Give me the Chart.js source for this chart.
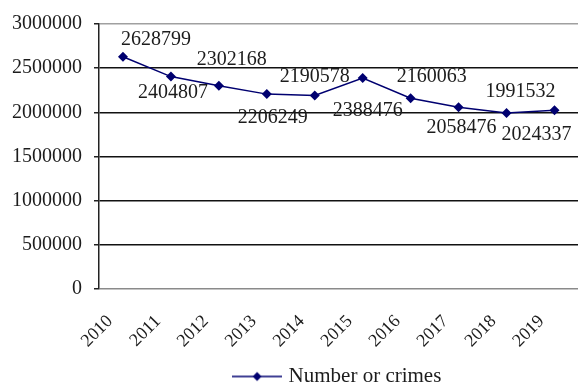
<!DOCTYPE html>
<html lang="en">
<head>
    <meta charset="UTF-8">
    <title>Number or crimes</title>
    <script src="https://cdn.jsdelivr.net/npm/chart.js"></script>
    <style>
        body {
            margin: 0;
            background: #fff;
        }
        .wrap {
            width: 578px;
            height: 387px;
            overflow: hidden;
        }
        canvas {
            display: block;
        }
    </style>
</head>
<body>
    <div class="wrap"><canvas id="crimeChart" width="584" height="397"></canvas></div>
    <script>
        const years = ['2010', '2011', '2012', '2013', '2014', '2015', '2016', '2017', '2018', '2019'];
        const crimes = [2628799, 2404807, 2302168, 2206249, 2190578, 2388476, 2160063, 2058476, 1991532, 2024337];
        const yMin = 0;
        const yMax = 3000000;
        const yStep = 500000;

        // value labels are nudged by hand around each point (dx, dy in px)
        const labelNudge = [[33, -17], [2, 16], [13, -26], [6, 24], [0, -19], [5, 33], [21, -21], [3, 21], [14, -21], [-18, 25]];

        const navy = '#000070';
        const serif = '"Liberation Serif", "Times New Roman", serif';

        // little line + diamond used as the legend key
        function legendMarker() {
            const c = document.createElement('canvas');
            c.width = 50;
            c.height = 12;
            const g = c.getContext('2d');
            g.strokeStyle = navy;
            g.lineWidth = 1.5;
            g.beginPath();
            g.moveTo(0, 6);
            g.lineTo(50, 6);
            g.stroke();
            g.fillStyle = navy;
            g.beginPath();
            g.moveTo(25, 1.5);
            g.lineTo(29.5, 6);
            g.lineTo(25, 10.5);
            g.lineTo(20.5, 6);
            g.closePath();
            g.fill();
            return c;
        }

        const pointLabels = {
            id: 'pointLabels',
            afterDatasetsDraw(chart) {
                const ctx = chart.ctx;
                const meta = chart.getDatasetMeta(0);
                ctx.save();
                ctx.font = '20px ' + serif;
                ctx.fillStyle = '#1c1c1c';
                ctx.textAlign = 'center';
                ctx.textBaseline = 'middle';
                meta.data.forEach((pt, i) => {
                    const [dx, dy] = labelNudge[i];
                    ctx.fillText(String(crimes[i]), pt.x + dx, pt.y + dy);
                });
                ctx.restore();
            }
        };

        new Chart(document.getElementById('crimeChart').getContext('2d'), {
            type: 'line',
            data: {
                labels: years,
                datasets: [{
                    label: 'Number or crimes',
                    data: crimes,
                    borderColor: navy,
                    backgroundColor: navy,
                    borderWidth: 1.5,
                    tension: 0,
                    pointStyle: 'rectRot',
                    pointRadius: 5,
                    pointBorderWidth: 0,
                    pointBackgroundColor: navy
                }]
            },
            options: {
                responsive: false,
                animation: false,
                layout: {
                    padding: { top: 19, right: 3, left: 0, bottom: 0 }
                },
                scales: {
                    x: {
                        offset: true,
                        afterFit(scale) {
                            scale.height = 75;
                        },
                        grid: { display: false },
                        border: { display: false },
                        ticks: {
                            autoSkip: false,
                            maxRotation: 45,
                            minRotation: 45,
                            labelOffset: -13,
                            padding: 14,
                            color: '#1c1c1c',
                            font: { family: serif, size: 18 }
                        }
                    },
                    y: {
                        min: yMin,
                        max: yMax,
                        afterFit(scale) {
                            scale.width = 99;
                        },
                        grid: {
                            lineWidth: 1.5,
                            tickLength: 5,
                            tickColor: '#222',
                            color: ctx => ctx.tick.value === yMin ? '#8a8a8a' : (ctx.tick.value === yMax ? '#a0a0a0' : '#111')
                        },
                        border: { color: '#222', width: 1.5 },
                        ticks: {
                            stepSize: yStep,
                            padding: 12,
                            color: '#1c1c1c',
                            font: { family: serif, size: 20 },
                            callback: v => String(v)
                        }
                    }
                },
                plugins: {
                    legend: {
                        position: 'bottom',
                        fullSize: false,
                        labels: {
                            usePointStyle: true,
                            pointStyle: legendMarker(),
                            pointStyleWidth: 42,
                            padding: 2,
                            color: '#1c1c1c',
                            font: { family: serif, size: 21 }
                        }
                    },
                    tooltip: { enabled: false }
                }
            },
            plugins: [pointLabels]
        });
    </script>
</body>
</html>
